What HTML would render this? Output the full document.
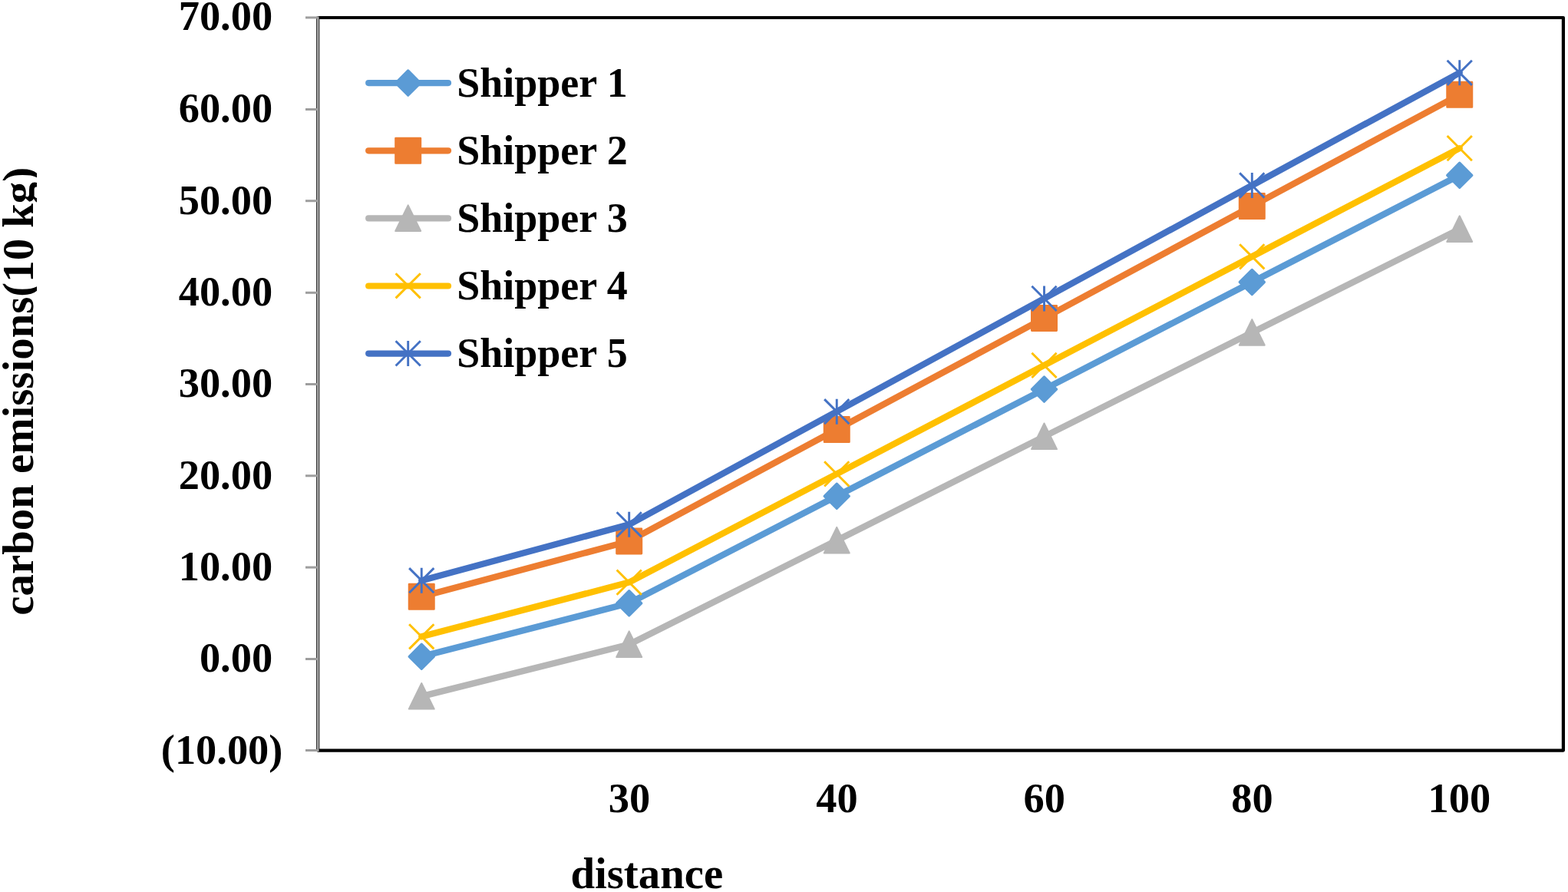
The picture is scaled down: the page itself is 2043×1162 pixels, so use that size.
<!DOCTYPE html>
<html lang="en"><head><meta charset="utf-8"><title>carbon emissions vs distance</title>
<style>
html,body{margin:0;padding:0;background:#fff;}
body{width:2043px;height:1162px;overflow:hidden;}
svg{display:block;}
text{font-family:"Liberation Serif",serif;font-weight:bold;fill:#000;}
.tick{font-size:54.4px;}
.leg{font-size:54px;}
.ttl{font-size:56.8px;}
</style></head><body>
<svg width="2043" height="1162" viewBox="0 0 2043 1162">
<rect width="2043" height="1162" fill="#fff"/>

<rect x="414.25" y="23.0" width="1622.65" height="954.55" fill="none" stroke="#000" stroke-width="4.2" stroke-linejoin="round"/>
<line x1="414.25" y1="21.5" x2="414.25" y2="979.05" stroke="#A2A2A2" stroke-width="2.7"/>
<line x1="398" y1="22.90" x2="414.25" y2="22.90" stroke="#9E9E9E" stroke-width="3"/>
<text class="tick" x="355.1" y="39.40" text-anchor="end">70.00</text>
<line x1="398" y1="142.50" x2="414.25" y2="142.50" stroke="#9E9E9E" stroke-width="3"/>
<text class="tick" x="355.1" y="158.85" text-anchor="end">60.00</text>
<line x1="398" y1="261.70" x2="414.25" y2="261.70" stroke="#9E9E9E" stroke-width="3"/>
<text class="tick" x="355.1" y="278.50" text-anchor="end">50.00</text>
<line x1="398" y1="381.30" x2="414.25" y2="381.30" stroke="#9E9E9E" stroke-width="3"/>
<text class="tick" x="355.1" y="397.80" text-anchor="end">40.00</text>
<line x1="398" y1="500.50" x2="414.25" y2="500.50" stroke="#9E9E9E" stroke-width="3"/>
<text class="tick" x="355.1" y="517.10" text-anchor="end">30.00</text>
<line x1="398" y1="619.80" x2="414.25" y2="619.80" stroke="#9E9E9E" stroke-width="3"/>
<text class="tick" x="355.1" y="636.60" text-anchor="end">20.00</text>
<line x1="398" y1="739.10" x2="414.25" y2="739.10" stroke="#9E9E9E" stroke-width="3"/>
<text class="tick" x="355.1" y="756.20" text-anchor="end">10.00</text>
<line x1="398" y1="858.50" x2="414.25" y2="858.50" stroke="#9E9E9E" stroke-width="3"/>
<text class="tick" x="355.1" y="874.60" text-anchor="end">0.00</text>
<line x1="398" y1="977.50" x2="414.25" y2="977.50" stroke="#9E9E9E" stroke-width="3"/>
<text class="tick" x="368.4" y="995.00" text-anchor="end">(10.00)</text>
<text class="tick" x="819.90" y="1058.4" text-anchor="middle">30</text>
<text class="tick" x="1090.45" y="1058.4" text-anchor="middle">40</text>
<text class="tick" x="1360.70" y="1058.4" text-anchor="middle">60</text>
<text class="tick" x="1631.50" y="1058.4" text-anchor="middle">80</text>
<text class="tick" x="1901.35" y="1058.4" text-anchor="middle">100</text>
<text class="ttl" x="842.8" y="1156.8" text-anchor="middle">distance</text>
<defs><clipPath id="ycl"><rect x="0" y="0" width="48" height="1162"/></clipPath></defs>
<g clip-path="url(#ycl)"><text class="ttl" transform="translate(42.7 509.75) rotate(-90)" text-anchor="middle">carbon emissions(10 kg)</text></g>
<polyline points="549.25,855.30 819.70,785.80 1090.25,646.30 1360.50,507.10 1631.30,367.50 1901.75,228.30" fill="none" stroke="#5B9BD5" stroke-width="8.3" stroke-linejoin="round" stroke-linecap="round"/>
<path d="M549.25 839.20L565.35 855.30L549.25 871.40L533.15 855.30Z" fill="#5B9BD5" stroke="#5B9BD5" stroke-width="3.2" stroke-linejoin="round"/>
<path d="M819.70 769.70L835.80 785.80L819.70 801.90L803.60 785.80Z" fill="#5B9BD5" stroke="#5B9BD5" stroke-width="3.2" stroke-linejoin="round"/>
<path d="M1090.25 630.20L1106.35 646.30L1090.25 662.40L1074.15 646.30Z" fill="#5B9BD5" stroke="#5B9BD5" stroke-width="3.2" stroke-linejoin="round"/>
<path d="M1360.50 491.00L1376.60 507.10L1360.50 523.20L1344.40 507.10Z" fill="#5B9BD5" stroke="#5B9BD5" stroke-width="3.2" stroke-linejoin="round"/>
<path d="M1631.30 351.40L1647.40 367.50L1631.30 383.60L1615.20 367.50Z" fill="#5B9BD5" stroke="#5B9BD5" stroke-width="3.2" stroke-linejoin="round"/>
<path d="M1901.75 212.20L1917.85 228.30L1901.75 244.40L1885.65 228.30Z" fill="#5B9BD5" stroke="#5B9BD5" stroke-width="3.2" stroke-linejoin="round"/>
<polyline points="549.25,777.30 819.70,704.90 1090.25,559.50 1360.50,414.40 1631.30,268.50 1901.75,123.30" fill="none" stroke="#ED7D31" stroke-width="8.3" stroke-linejoin="round" stroke-linecap="round"/>
<rect x="533.05" y="761.10" width="32.40" height="32.40" fill="#ED7D31" stroke="#ED7D31" stroke-width="2.6" stroke-linejoin="round"/>
<rect x="803.50" y="688.70" width="32.40" height="32.40" fill="#ED7D31" stroke="#ED7D31" stroke-width="2.6" stroke-linejoin="round"/>
<rect x="1074.05" y="543.30" width="32.40" height="32.40" fill="#ED7D31" stroke="#ED7D31" stroke-width="2.6" stroke-linejoin="round"/>
<rect x="1344.30" y="398.20" width="32.40" height="32.40" fill="#ED7D31" stroke="#ED7D31" stroke-width="2.6" stroke-linejoin="round"/>
<rect x="1615.10" y="252.30" width="32.40" height="32.40" fill="#ED7D31" stroke="#ED7D31" stroke-width="2.6" stroke-linejoin="round"/>
<rect x="1885.55" y="107.10" width="32.40" height="32.40" fill="#ED7D31" stroke="#ED7D31" stroke-width="2.6" stroke-linejoin="round"/>
<polyline points="549.25,907.10 819.70,839.50 1090.25,704.00 1360.50,568.60 1631.30,433.20 1901.75,298.40" fill="none" stroke="#B6B6B6" stroke-width="8.3" stroke-linejoin="round" stroke-linecap="round"/>
<path d="M549.25 890.00L565.75 923.60L532.75 923.60Z" fill="#B6B6B6" stroke="#B6B6B6" stroke-width="2" stroke-linejoin="round"/>
<path d="M819.70 822.40L836.20 856.00L803.20 856.00Z" fill="#B6B6B6" stroke="#B6B6B6" stroke-width="2" stroke-linejoin="round"/>
<path d="M1090.25 686.90L1106.75 720.50L1073.75 720.50Z" fill="#B6B6B6" stroke="#B6B6B6" stroke-width="2" stroke-linejoin="round"/>
<path d="M1360.50 551.50L1377.00 585.10L1344.00 585.10Z" fill="#B6B6B6" stroke="#B6B6B6" stroke-width="2" stroke-linejoin="round"/>
<path d="M1631.30 416.10L1647.80 449.70L1614.80 449.70Z" fill="#B6B6B6" stroke="#B6B6B6" stroke-width="2" stroke-linejoin="round"/>
<path d="M1901.75 281.30L1918.25 314.90L1885.25 314.90Z" fill="#B6B6B6" stroke="#B6B6B6" stroke-width="2" stroke-linejoin="round"/>
<polyline points="549.25,829.30 819.70,758.60 1090.25,617.40 1360.50,475.90 1631.30,334.30 1901.75,193.10" fill="none" stroke="#FFC000" stroke-width="8.3" stroke-linejoin="round" stroke-linecap="round"/>
<path d="M533.15 813.20L565.35 845.40M565.35 813.20L533.15 845.40" fill="none" stroke="#FFC000" stroke-width="2.9"/>
<path d="M803.60 742.50L835.80 774.70M835.80 742.50L803.60 774.70" fill="none" stroke="#FFC000" stroke-width="2.9"/>
<path d="M1074.15 601.30L1106.35 633.50M1106.35 601.30L1074.15 633.50" fill="none" stroke="#FFC000" stroke-width="2.9"/>
<path d="M1344.40 459.80L1376.60 492.00M1376.60 459.80L1344.40 492.00" fill="none" stroke="#FFC000" stroke-width="2.9"/>
<path d="M1615.20 318.20L1647.40 350.40M1647.40 318.20L1615.20 350.40" fill="none" stroke="#FFC000" stroke-width="2.9"/>
<path d="M1885.65 177.00L1917.85 209.20M1917.85 177.00L1885.65 209.20" fill="none" stroke="#FFC000" stroke-width="2.9"/>
<polyline points="549.25,756.20 819.70,683.30 1090.25,536.20 1360.50,388.90 1631.30,241.50 1901.75,94.80" fill="none" stroke="#4472C4" stroke-width="8.3" stroke-linejoin="round" stroke-linecap="round"/>
<path d="M533.15 740.10L565.35 772.30M565.35 740.10L533.15 772.30M549.25 739.70L549.25 772.70" fill="none" stroke="#4472C4" stroke-width="2.9"/>
<path d="M803.60 667.20L835.80 699.40M835.80 667.20L803.60 699.40M819.70 666.80L819.70 699.80" fill="none" stroke="#4472C4" stroke-width="2.9"/>
<path d="M1074.15 520.10L1106.35 552.30M1106.35 520.10L1074.15 552.30M1090.25 519.70L1090.25 552.70" fill="none" stroke="#4472C4" stroke-width="2.9"/>
<path d="M1344.40 372.80L1376.60 405.00M1376.60 372.80L1344.40 405.00M1360.50 372.40L1360.50 405.40" fill="none" stroke="#4472C4" stroke-width="2.9"/>
<path d="M1615.20 225.40L1647.40 257.60M1647.40 225.40L1615.20 257.60M1631.30 225.00L1631.30 258.00" fill="none" stroke="#4472C4" stroke-width="2.9"/>
<path d="M1885.65 78.70L1917.85 110.90M1917.85 78.70L1885.65 110.90M1901.75 78.30L1901.75 111.30" fill="none" stroke="#4472C4" stroke-width="2.9"/>
<line x1="480.2" y1="108.1" x2="584" y2="108.1" stroke="#5B9BD5" stroke-width="8.2" stroke-linecap="round"/>
<path d="M531.70 92.00L547.80 108.10L531.70 124.20L515.60 108.10Z" fill="#5B9BD5" stroke="#5B9BD5" stroke-width="3.2" stroke-linejoin="round"/>
<text class="leg" x="595.2" y="125.50">Shipper 1</text>
<line x1="480.2" y1="196.3" x2="584" y2="196.3" stroke="#ED7D31" stroke-width="8.2" stroke-linecap="round"/>
<rect x="515.50" y="180.10" width="32.40" height="32.40" fill="#ED7D31" stroke="#ED7D31" stroke-width="2.6" stroke-linejoin="round"/>
<text class="leg" x="595.2" y="213.70">Shipper 2</text>
<line x1="480.2" y1="284.45" x2="584" y2="284.45" stroke="#B6B6B6" stroke-width="8.2" stroke-linecap="round"/>
<path d="M531.70 267.35L548.20 300.95L515.20 300.95Z" fill="#B6B6B6" stroke="#B6B6B6" stroke-width="2" stroke-linejoin="round"/>
<text class="leg" x="595.2" y="301.85">Shipper 3</text>
<line x1="480.2" y1="372.5" x2="584" y2="372.5" stroke="#FFC000" stroke-width="8.2" stroke-linecap="round"/>
<path d="M515.60 356.20L547.80 388.40M547.80 356.20L515.60 388.40" fill="none" stroke="#FFC000" stroke-width="2.9"/>
<text class="leg" x="595.2" y="389.90">Shipper 4</text>
<line x1="480.2" y1="460.6" x2="584" y2="460.6" stroke="#4472C4" stroke-width="8.2" stroke-linecap="round"/>
<path d="M515.60 444.30L547.80 476.50M547.80 444.30L515.60 476.50M531.70 443.90L531.70 476.90" fill="none" stroke="#4472C4" stroke-width="2.9"/>
<text class="leg" x="595.2" y="478.00">Shipper 5</text>
</svg></body></html>
